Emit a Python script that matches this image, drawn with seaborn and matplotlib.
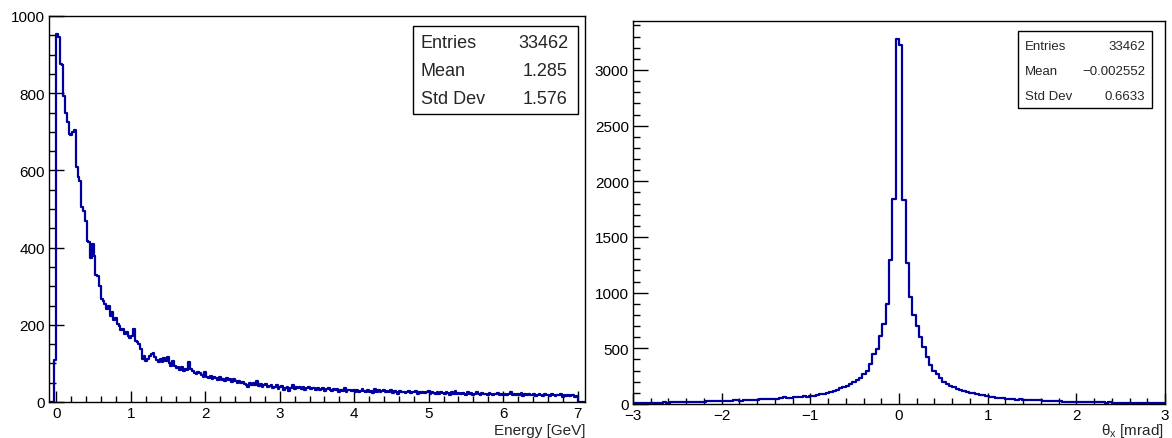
import numpy as np
import pandas as pd
import seaborn as sns
import matplotlib.pyplot as plt
from matplotlib.patches import Rectangle
from matplotlib.ticker import MultipleLocator

# energy spectrum, 300 bins from -0.1 to 7.1 GeV
energy_range = (-0.1, 7.1)
energy_counts = [
    0, 0, 0, 110, 953, 945, 876, 872, 793, 750,
    725, 694, 692, 700, 705, 608, 582, 573, 505, 496,
    470, 418, 414, 372, 410, 379, 330, 327, 300, 268,
    262, 254, 241, 250, 224, 232, 212, 218, 202, 196,
    186, 190, 176, 181, 172, 165, 170, 190, 158, 155,
    150, 138, 111, 120, 107, 112, 118, 124, 128, 116,
    110, 104, 111, 103, 115, 106, 117, 100, 94, 105,
    94, 88, 90, 84, 91, 81, 86, 83, 104, 85,
    80, 76, 72, 78, 74, 70, 65, 78, 66, 63,
    68, 60, 64, 62, 58, 65, 57, 60, 55, 62,
    56, 59, 52, 60, 55, 50, 54, 48, 52, 46,
    44, 39, 48, 43, 50, 45, 55, 42, 46, 40,
    44, 47, 38, 42, 45, 36, 40, 43, 34, 38,
    41, 32, 36, 40, 29, 37, 44, 33, 38, 35,
    39, 34, 38, 31, 36, 40, 33, 37, 35, 32,
    36, 30, 34, 37, 29, 33, 35, 31, 28, 34,
    30, 33, 27, 32, 29, 35, 26, 31, 30, 28,
    32, 27, 30, 25, 29, 33, 28, 26, 31, 27,
    29, 24, 34, 27, 30, 26, 28, 31, 25, 29,
    27, 30, 24, 28, 26, 22, 29, 25, 27, 23,
    26, 28, 23, 27, 25, 29, 22, 26, 24, 27,
    23, 25, 28, 21, 26, 24, 22, 27, 20, 25,
    24, 21, 26, 23, 19, 25, 22, 28, 21, 23,
    20, 24, 22, 19, 25, 21, 23, 18, 22, 26,
    21, 19, 23, 20, 22, 18, 24, 21, 19, 22,
    20, 23, 18, 21, 19, 22, 17, 20, 25, 18,
    21, 17, 20, 19, 23, 16, 21, 18, 20, 19,
    17, 20, 16, 19, 22, 18, 15, 20, 17, 19,
    16, 21, 18, 15, 19, 17, 20, 14, 18, 16,
    19, 15, 17, 18, 14, 16, 0, 0, 0, 0,
]

# theta_x, 160 bins from -3 to 3 mrad
theta_range = (-3.0, 3.0)
theta_counts = [
    8, 10, 9, 11, 10, 12, 11, 13, 12, 14,
    13, 15, 14, 16, 15, 17, 16, 18, 20, 19,
    21, 22, 24, 23, 26, 25, 28, 27, 30, 29,
    32, 36, 31, 34, 38, 35, 40, 37, 42, 44,
    41, 46, 48, 45, 52, 60, 56, 58, 62, 60,
    64, 68, 66, 72, 74, 80, 88, 92, 100, 108,
    118, 130, 140, 150, 165, 180, 195, 215, 235, 265,
    300, 360, 450, 495, 614, 720, 900, 1290, 1840, 3280,
    3220, 1830, 1270, 960, 800, 700, 600, 510, 420, 350,
    295, 265, 230, 200, 180, 160, 150, 135, 128, 118,
    108, 100, 95, 88, 84, 78, 70, 62, 60, 55,
    52, 50, 48, 46, 44, 40, 42, 38, 40, 35,
    36, 34, 32, 30, 31, 28, 26, 24, 25, 22,
    20, 21, 19, 20, 18, 17, 19, 16, 15, 17,
    14, 15, 13, 14, 12, 13, 12, 11, 12, 10,
    11, 9, 10, 11, 9, 8, 10, 9, 8, 9,
]

energy_stats = [("Entries", "33462"), ("Mean", "1.285"), ("Std Dev", "1.576")]
theta_stats = [("Entries", "33462"), ("Mean", "\u22120.002552"), ("Std Dev", "0.6633")]

sns.set_style("ticks")
plt.rcParams["font.family"] = ["Liberation Sans", "DejaVu Sans"]
plt.rcParams["mathtext.default"] = "regular"

W, H = 1172, 439
fig = plt.figure(figsize=(W / 100, H / 100), dpi=100)


def frac_box(x0, y0, x1, y1):
    # pixel box (top-left origin) -> figure fraction [l, b, w, h]
    return [x0 / W, 1 - y1 / H, (x1 - x0) / W, (y1 - y0) / H]


def make_df(counts, rng):
    edges = np.linspace(rng[0], rng[1], len(counts) + 1)
    centers = 0.5 * (edges[:-1] + edges[1:])
    return pd.DataFrame({"x": centers, "n": counts}), list(edges)


line_color = "#0000a0"

ax1 = fig.add_axes(frac_box(49, 17, 585, 403))
df1, edges1 = make_df(energy_counts, energy_range)
sns.histplot(data=df1, x="x", weights="n", bins=edges1, element="step",
             fill=False, color=line_color, linewidth=1.6, ax=ax1)
ax1.set_xlim(*energy_range)
ax1.set_ylim(0, 1000)
ax1.xaxis.set_major_locator(MultipleLocator(1))
ax1.xaxis.set_minor_locator(MultipleLocator(0.2))
ax1.yaxis.set_major_locator(MultipleLocator(200))
ax1.yaxis.set_minor_locator(MultipleLocator(50))

ax2 = fig.add_axes(frac_box(633, 22, 1165, 405))
df2, edges2 = make_df(theta_counts, theta_range)
sns.histplot(data=df2, x="x", weights="n", bins=edges2, element="step",
             fill=False, color=line_color, linewidth=1.6, ax=ax2)
ax2.set_xlim(*theta_range)
ax2.set_ylim(0, 3440)
ax2.xaxis.set_major_locator(MultipleLocator(1))
ax2.xaxis.set_minor_locator(MultipleLocator(0.2))
ax2.yaxis.set_major_locator(MultipleLocator(500))
ax2.yaxis.set_minor_locator(MultipleLocator(100))

for ax in (ax1, ax2):
    ax.set_xlabel("")
    ax.set_ylabel("")
    for sp in ax.spines.values():
        sp.set_visible(True)
        sp.set_linewidth(1.0)
        sp.set_color("black")
    ax.tick_params(which="both", direction="in", top=False, right=False,
                   width=1.0, colors="black", labelsize=11)
    ax.tick_params(axis="y", which="major", length=11, pad=3)
    ax.tick_params(axis="y", which="minor", length=5)
    ax.tick_params(axis="x", which="major", length=8, pad=3)
    ax.tick_params(axis="x", which="minor", length=4)

fig.text(585 / W, 1 - 431 / H, "Energy [GeV]", ha="right", va="center", fontsize=11)
fig.text(1164 / W, 1 - 431 / H, "θ$_{x}$ [mrad]", ha="right", va="center", fontsize=11)


def stats_box(box, rows, text_x0, text_x1, row_y, size):
    l, b, w, h = frac_box(*box)
    fig.add_artist(Rectangle((l, b), w, h, transform=fig.transFigure,
                             facecolor="white", edgecolor="black", lw=1.0, zorder=3))
    for (name, val), y in zip(rows, row_y):
        fig.text(text_x0 / W, 1 - y / H, name, ha="left", va="center",
                 fontsize=size, zorder=4)
        fig.text(text_x1 / W, 1 - y / H, val, ha="right", va="center",
                 fontsize=size, zorder=4)


stats_box((413, 27, 578, 115), energy_stats, 421, 568, [43, 72, 100], 13)
stats_box((1018, 32, 1152, 109), theta_stats, 1025, 1145, [47, 72, 97], 9.5)

fig.savefig("out.png", dpi=100)
